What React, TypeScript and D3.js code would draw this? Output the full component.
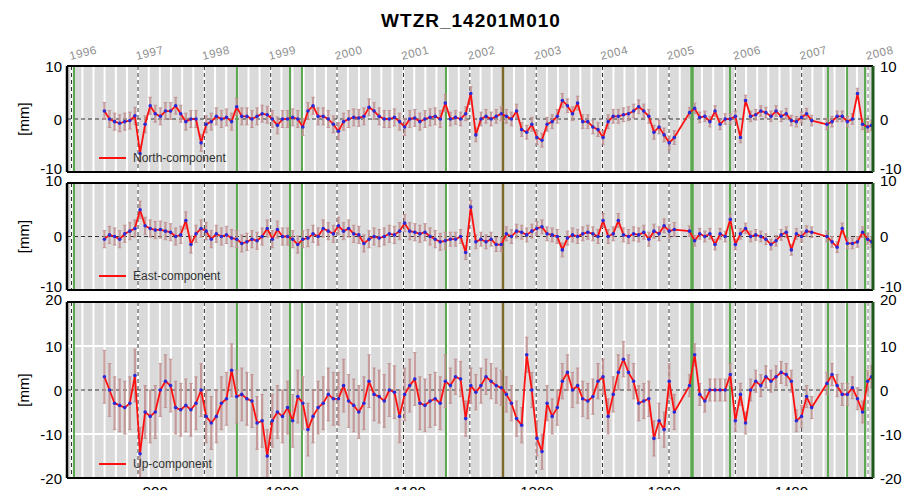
import React from "react";
import * as d3 from "d3";

// ---- data (GPS week, mm) ----
const WEEKS: number[] = [
  860, 864, 868, 872, 876, 880, 884, 888, 892, 896, 900, 904, 908, 912, 916, 920, 924, 928, 932, 936,
  940, 944, 948, 952, 956, 960, 964, 968, 972, 976, 980, 984, 988, 992, 996, 1000,
  1004, 1008, 1012, 1016, 1020, 1024, 1028, 1032, 1036, 1040, 1044, 1048, 1052, 1056, 1060, 1064, 1068,
  1072, 1076, 1080, 1084, 1088, 1092, 1096, 1100, 1104, 1108, 1112, 1116, 1120, 1124, 1128, 1132, 1136,
  1140, 1144, 1148, 1152, 1156,
  1160, 1164, 1168, 1172, 1176, 1180, 1184, 1188, 1192, 1196, 1200, 1204, 1208, 1212, 1216, 1220, 1224,
  1228, 1232, 1236, 1240, 1244, 1248, 1252, 1256, 1260, 1264, 1268, 1272, 1276, 1280, 1284, 1288, 1292,
  1296, 1300, 1304, 1308,
  1320, 1324, 1328, 1332, 1336, 1340, 1344, 1348, 1352, 1356, 1360, 1364, 1368, 1372, 1376, 1380, 1384,
  1388, 1392, 1396, 1400, 1404, 1408, 1412, 1416,
  1428, 1432, 1436, 1440, 1444, 1448, 1452, 1456, 1460, 1463,
];

const NORTH: number[] = [
  1.5, 0, -0.5, -0.8, -0.5, -0.3, 0.6, -6.5, -1, 2.5, 1, 0.5, 1.5, 1.5, 2.5, 1, -0.5, 0, 0, -4.5,
  -1, -0.5, 0.5, 0, 0.3, -0.5, 2.3, 0.5, 0.5, 0, 0.5, 1, 0.8, 0, -1.2, 0,
  0, 0.3, 0, -1.5, 1.5, 2.5, 0.5, 0.5, 0, -1, -2.3, -0.5, 0, 0.3, 0.2, 0.5, 2.2,
  1.5, 0.5, 0, 0, 0.3, -0.5, -1.5, 0, 0.2, -0.5, 0, 0.3, 0.5, 0, 3, 0, 0.3,
  0, 1, 4.8, -3, 0,
  0.5, 0, 0.5, 1, 0.5, 0, 1.5, -2, -2.5, -1, -3.5, -4, -1, -0.5, 0.5, 3.5, 2.5,
  1, 3, -0.5, -0.5, -1.5, -2, -3.5, -0.5, 0.5, 0.5, 0.8, 1, 1.5, 2.3, 1.5, 0.5, -2.5,
  -1.5, -3, -4.5, -3.5,
  1.2, 2, 0.3, 0.5, -0.5, 1.5, -1, 0, 0, 0.5, -3.5, 3.5, 0.5, 0.8, 1.5, 1.2, 0.5,
  1.5, 0.5, 1, -0.3, -0.5, 0.3, 1, -0.3,
  -1, -0.5, 0.5, 0.5, -0.5, 0, 4.8, -1, -1.5, -1.2,
];

const EAST: number[] = [
  -0.5, 0.3, 0, -0.5, 0.5, 1, 1.5, 5, 2, 1.5, 1.2, 1.3, 1, 0.8, 0, 0.3, 3, -1.5, 0.5, 1.5,
  1, -0.5, 0.5, 0, 0.3, -0.3, -0.5, -1.3, -1, -0.5, -0.8, 0, 1.5, -0.5, 1.3, 0,
  0, -0.5, -1.5, -0.5, -0.3, 0.5, 0, 1.5, 1, 0.5, 2, 1, 1.5, 0.5, 0.3, -1.3, -0.5,
  0, -0.3, 0, 0.5, 0.3, 1, 2.5, 1, 0.8, 0.5, 0.8, 0, -0.5, -1, -0.8, -0.5, -0.5,
  0, -3, 5.5, -1, -0.5,
  -1, -0.5, -1.5, -1.5, 0.5, 0, 1, 0.8, 0.3, 1, 1.5, 1.8, 0.5, 0.3, 0, -2.5, -0.3,
  0.3, 0, 0.5, 0.8, 0.5, 0, 3, 0, 0.5, 3, 0.3, 0, 0.5, 0.3, 0.8, -0.5, 1,
  0.5, 2, 1, 1.3,
  1, -0.8, 0.5, 0, 0.5, -1.5, 0.5, 0, 3.2, -1.5, 0.5, 1.5, 0, 0.3, 0, -0.5, -1.5,
  -0.8, 0.3, 0.8, -2.5, 0.5, 0, 1, 0.8,
  0, -1, -2, 1.5, -1.3, -1.3, -1, 0.8, -0.5, -1,
];

const UP: number[] = [
  3, 0, -3, -3.5, -4, -3, 3.3, -14.5, -5, -6, -5, 0, 2, 1, -4, -4.5, -3.5, -4.5, -3, 0,
  -6, -7.5, -6, -3, -2, 4.5, -1.5, -1, -2, -2.5, -7.5, -7, -15, -7, -5, -6,
  -4, -7, -1.5, -3, -9, -6, -4, -3, -1, -2, -2, 1, -2.5, -3.5, -5, -3, 2,
  -1, -1.5, -2.5, 0, -0.5, -6, -1, 1, 2.5, -3, -3.5, -2.5, -2, -3, 2, 1, 3,
  2.5, -6.5, 1, -0.5, 1,
  3, 2, 1, 0.5, -1, -3, -6.5, -8, 8, 0, -11, -14, -3, -6, -4, 2, 4,
  0, 1, -2, -2.5, -1.5, 2, 3, -6, -1, 4, 7, 4, 2, -3, -2.5, -2, -11,
  -7, -9, 2, -5,
  1, 8, -1, -2.5, 0, 0, 0, 0, 3.5, -7, -1, -7.5, 0, 2, 1, 3, 2,
  3, 4, 3.5, 2, -7, -6, -1.5, -4,
  1.5, 3.5, 1, -1, -1, 0.5, -2, -5, 2, 3,
];

// formal errors (1-sigma, mm) per period
const SIGMA_FROM_WEEK: number[] = [0, 1130, 1320];
const NORTH_SIGMA: number[] = [1.6, 1.3, 1.0];
const EAST_SIGMA: number[] = [1.6, 1.3, 1.0];
const UP_SIGMA: number[] = [6.0, 4.0, 2.5];

const COMPONENTS = ["North-component", "East-component", "Up-component"];
const Y_LIMITS = [10, 10, 20];
const Y_TICKS: number[][] = [[-10, 0, 10], [-10, 0, 10], [-20, -10, 0, 10, 20]];
const X_TICKS: number[] = [900, 1000, 1100, 1200, 1300, 1400];
const YEARS: number[] = [1996, 1997, 1998, 1999, 2000, 2001, 2002, 2003, 2004, 2005, 2006, 2007, 2008];

// equipment changes (GPS week)
const GREEN_EVENTS: number[] = [836.1, 964.2, 1005.9, 1015.3, 1128.5, 1321.9, 1351.8, 1428.8, 1443.8, 1457.9];
const GREEN_WIDTH: number[] = [2, 2, 2, 2, 2, 3.5, 2, 2, 2, 2];
const BROWN_EVENTS: number[] = [1173.3];

const TITLE = "WTZR_14201M010";

// ---- layout ----
const W = 908;
const H = 490;
const PLOT_L = 67;
const PLOT_R = 873;
const PANELS = [
  { top: 66, bottom: 172 },
  { top: 183, bottom: 290 },
  { top: 302, bottom: 478 },
];
const FONT = "'Liberation Sans', Arial, Helvetica, sans-serif";

const GPS_EPOCH = Date.UTC(1980, 0, 6);
const gpsWeek = (y: number, m: number) => (Date.UTC(y, m, 1) - GPS_EPOCH) / (7 * 86400000);

function sigmaAt(arr: number[], w: number) {
  let s = arr[0];
  SIGMA_FROM_WEEK.forEach((b, i) => {
    if (w >= b) s = arr[i];
  });
  return s;
}

export default function App() {
  const x = d3.scaleLinear().domain([830.6, 1464.2]).range([PLOT_L, PLOT_R]);
  const series = [NORTH, EAST, UP];
  const sigmas = [NORTH_SIGMA, EAST_SIGMA, UP_SIGMA];

  const monthWeeks: number[] = [];
  for (let y = 1995; y <= 2008; y++) {
    for (let m = 0; m < 12; m += 2) {
      const w = gpsWeek(y, m);
      if (w > 830.6 && w < 1464.2) monthWeeks.push(w);
    }
  }
  const yearWeeks = YEARS.map((y) => gpsWeek(y, 0));

  // vertical offset of tick-label centre, to mimic the reference's stacked labels
  const labelShift = (pi: number, t: number) => {
    const lim = Y_LIMITS[pi];
    if (t === -lim && pi < PANELS.length - 1) return -4;
    if (t === lim && pi > 0) return -3;
    return 0;
  };

  return (
    <svg
      width={W}
      height={H}
      style={{ position: "absolute", left: 0, top: 0, background: "#fff" }}
      fontFamily={FONT}
    >
      <defs>
        {PANELS.map((p, i) => (
          <clipPath id={`clip${i}`} key={i}>
            <rect x={PLOT_L} y={p.top} width={PLOT_R - PLOT_L} height={p.bottom - p.top} />
          </clipPath>
        ))}
      </defs>

      <text x={471} y={27} textAnchor="middle" fontSize={19} fontWeight="bold" fill="#000" letterSpacing={1}>
        {TITLE}
      </text>

      {YEARS.map((yr, i) => (
        <text
          key={yr}
          transform={`translate(${x(yearWeeks[i]) - 1},60) rotate(-14)`}
          fontSize={11.5}
          fill="#8c8c8c"
          letterSpacing={0.6}
        >
          {yr}
        </text>
      ))}

      {PANELS.map((p, pi) => {
        const lim = Y_LIMITS[pi];
        const y = d3.scaleLinear().domain([-lim, lim]).range([p.bottom, p.top]);
        const vals = series[pi];
        const sig = sigmas[pi];
        const line = d3
          .line<number>()
          .x((_, i) => x(WEEKS[i]))
          .y((v) => y(v));
        return (
          <g key={pi}>
            <rect x={PLOT_L} y={p.top} width={PLOT_R - PLOT_L} height={p.bottom - p.top} fill="#dadada" />
            <g clipPath={`url(#clip${pi})`}>
              {monthWeeks.map((w, i) => (
                <line key={i} x1={x(w)} x2={x(w)} y1={p.top} y2={p.bottom} stroke="#fff" strokeWidth={2} />
              ))}
              {Y_TICKS[pi]
                .filter((t) => t !== 0 && Math.abs(t) !== lim)
                .map((t) => (
                  <line key={t} x1={PLOT_L} x2={PLOT_R} y1={y(t)} y2={y(t)} stroke="#fff" strokeWidth={2} />
                ))}
              {yearWeeks.map((w, i) => (
                <line
                  key={i}
                  x1={x(w)}
                  x2={x(w)}
                  y1={p.top}
                  y2={p.bottom}
                  stroke={i === yearWeeks.length - 1 ? "#777" : "#333"}
                  strokeWidth={1}
                  strokeDasharray="4,3"
                />
              ))}
              <line x1={PLOT_L} x2={PLOT_R} y1={y(0)} y2={y(0)} stroke="#333" strokeWidth={1} strokeDasharray="4,3" />
              {GREEN_EVENTS.map((w, i) => (
                <line key={i} x1={x(w)} x2={x(w)} y1={p.top} y2={p.bottom} stroke="#5aa84f" strokeWidth={GREEN_WIDTH[i]} />
              ))}
              {BROWN_EVENTS.map((w, i) => (
                <line key={i} x1={x(w)} x2={x(w)} y1={p.top} y2={p.bottom} stroke="#7d6a2c" strokeWidth={2.5} />
              ))}
              {vals.map((v, i) => {
                const s = sigmaAt(sig, WEEKS[i]);
                const cx = x(WEEKS[i]);
                return (
                  <g key={i} stroke="#c08e8e" strokeOpacity={0.85} strokeWidth={2.2}>
                    <line x1={cx} x2={cx} y1={y(v - s)} y2={y(v + s)} />
                    <line x1={cx - 1.8} x2={cx + 1.8} y1={y(v - s)} y2={y(v - s)} strokeWidth={1} />
                    <line x1={cx - 1.8} x2={cx + 1.8} y1={y(v + s)} y2={y(v + s)} strokeWidth={1} />
                  </g>
                );
              })}
              <path d={line(vals) || ""} fill="none" stroke="#ff1010" strokeWidth={1.8} strokeLinejoin="round" />
              {vals.map((v, i) => (
                <circle key={i} cx={x(WEEKS[i])} cy={y(v)} r={1.8} fill="#2a2ad8" />
              ))}
            </g>
            {/* legend */}
            <line x1={99} x2={126} y1={p.bottom - 14} y2={p.bottom - 14} stroke="#ff1010" strokeWidth={2} />
            <text x={133} y={p.bottom - 10} fontSize={12} fill="#333">
              {COMPONENTS[pi]}
            </text>
            {/* frame */}
            <line x1={PLOT_L} x2={PLOT_R} y1={p.top} y2={p.top} stroke="#000" strokeWidth={2} />
            <line x1={PLOT_L} x2={PLOT_R} y1={p.bottom} y2={p.bottom} stroke="#000" strokeWidth={2} />
            <line x1={PLOT_L} x2={PLOT_L} y1={p.top} y2={p.bottom} stroke="#000" strokeWidth={2.5} />
            <line x1={PLOT_R} x2={PLOT_R} y1={p.top} y2={p.bottom} stroke="#1e5a1e" strokeWidth={3} />
            {/* y tick labels */}
            {Y_TICKS[pi].map((t) => (
              <g key={t} fontSize={15} fill="#000">
                <text x={62} y={y(t) + 5.5 + labelShift(pi, t)} textAnchor="end">
                  {t}
                </text>
                <text x={880} y={y(t) + 5.5 + labelShift(pi, t)} textAnchor="start">
                  {t}
                </text>
              </g>
            ))}
            <text
              transform={`translate(29,${(p.top + p.bottom) / 2}) rotate(-90)`}
              textAnchor="middle"
              fontSize={15}
              fill="#000"
            >
              [mm]
            </text>
          </g>
        );
      })}

      {X_TICKS.map((t) => (
        <text key={t} x={x(t)} y={497} textAnchor="middle" fontSize={15} fill="#000">
          {t}
        </text>
      ))}
    </svg>
  );
}
